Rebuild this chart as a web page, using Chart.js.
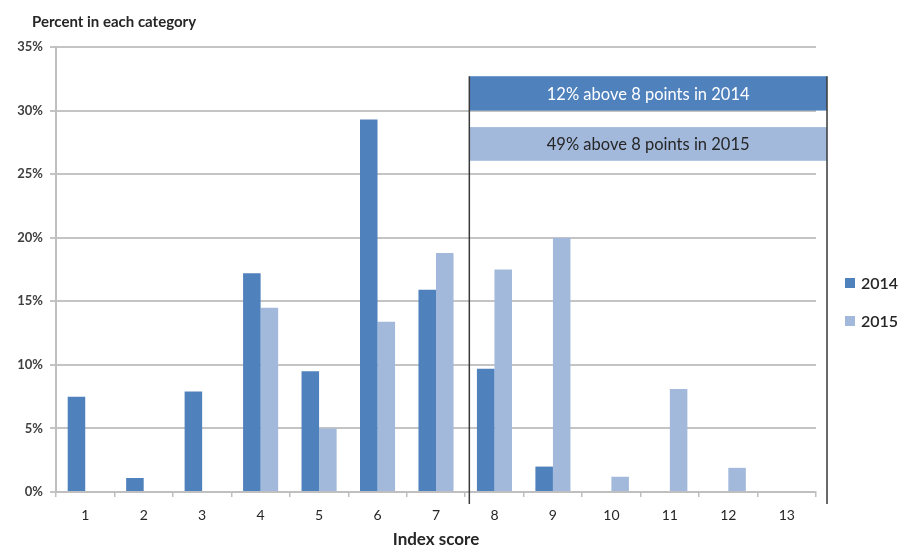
<!DOCTYPE html>
<html>
<head>
<meta charset="utf-8">
<script src="https://cdn.jsdelivr.net/npm/chart.js@4"></script>
<style>
  html, body { margin: 0; padding: 0; background: #fff; }
  #wrap { width: 904px; height: 551px; }
</style>
</head>
<body>
<div id="wrap"><canvas id="c" width="904" height="551"></canvas></div>
<script>
const categories = ['1','2','3','4','5','6','7','8','9','10','11','12','13'];
const values2014 = [7.5, 1.1, 7.9, 17.2, 9.5, 29.3, 15.9, 9.7, 2.0, 0, 0, 0, 0];
const values2015 = [0, 0, 0, 14.5, 5.0, 13.4, 18.8, 17.5, 20.0, 1.2, 8.1, 1.9, 0];
const seriesNames = ['2014', '2015'];
const seriesColors = ['#4f81bd', '#a3b9dc'];
const yTicks = [0, 5, 10, 15, 20, 25, 30, 35];
const noteTexts = ['12% above 8 points in 2014', '49% above 8 points in 2015'];
const noteRanges = [[30, 32.7], [26.05, 28.7]];

const FONT = 'Lato, "Open Sans", "Liberation Sans", sans-serif';

const overlay = {
  id: 'overlay',
  afterDraw(chart) {
    const ctx = chart.ctx;
    const x = chart.scales.x, y = chart.scales.y;
    const area = chart.chartArea;
    ctx.save();
    // header
    ctx.fillStyle = '#262626';
    ctx.font = 'bold 15px ' + FONT;
    ctx.textBaseline = 'middle';
    ctx.textAlign = 'left';
    ctx.fillText('Percent in each category', 32, 22);

    // annotation region
    const xl = x.getPixelForValue(6.57);
    const xr = area.right + 11;
    const topY = y.getPixelForValue(noteRanges[0][1]);
    const botY = area.bottom + 12;
    noteRanges.forEach((r, i) => {
      const t = y.getPixelForValue(r[1]);
      const b = y.getPixelForValue(r[0]);
      ctx.fillStyle = i === 0 ? '#4f81bd' : '#a3b9dc';
      ctx.fillRect(xl, t, xr - xl, b - t);
      ctx.fillStyle = i === 0 ? '#ffffff' : '#262626';
      ctx.font = '16.5px ' + FONT;
      ctx.textAlign = 'center';
      ctx.fillText(noteTexts[i], (xl + xr) / 2, (t + b) / 2 + 1);
    });
    ctx.strokeStyle = '#3a3a3a';
    ctx.lineWidth = 1.5;
    ctx.beginPath();
    ctx.moveTo(xl, topY); ctx.lineTo(xl, botY);
    ctx.moveTo(xr, topY); ctx.lineTo(xr, botY);
    ctx.stroke();

    // legend
    const lx = area.right + 29;
    const ly = [283, 321];
    seriesNames.forEach((n, i) => {
      ctx.fillStyle = seriesColors[i];
      ctx.fillRect(lx, ly[i] - 5, 10, 10);
      ctx.fillStyle = '#262626';
      ctx.font = '600 16px ' + FONT;
      ctx.textAlign = 'left';
      ctx.fillText(n, lx + 16, ly[i] + 1);
    });
    ctx.restore();
  }
};

new Chart(document.getElementById('c'), {
  type: 'bar',
  data: {
    labels: categories,
    datasets: [
      { label: seriesNames[0], data: values2014, backgroundColor: seriesColors[0] },
      { label: seriesNames[1], data: values2015, backgroundColor: seriesColors[1] }
    ]
  },
  options: {
    responsive: false,
    animation: false,
    devicePixelRatio: 1,
    layout: { padding: { left: 0, right: 88, top: 47, bottom: 0 } },
    datasets: { bar: { categoryPercentage: 0.6, barPercentage: 1.0 } },
    plugins: {
      legend: { display: false },
      title: { display: false },
      tooltip: { enabled: false }
    },
    scales: {
      x: {
        afterFit(s) { s.height = 59; },
        grid: { drawOnChartArea: false, drawTicks: true, tickLength: 5, color: '#bfbfbf', lineWidth: 1.5 },
        border: { display: true, color: '#bfbfbf', width: 2 },
        ticks: { color: '#262626', font: { family: FONT, size: 14 }, padding: 10 },
        title: { display: true, text: 'Index score', color: '#262626', font: { family: FONT, size: 17, weight: 'bold' }, padding: { top: 0, bottom: 1 } }
      },
      y: {
        min: 0, max: 35,
        afterFit(s) { s.width = 56; },
        afterBuildTicks(s) { s.ticks = yTicks.map(v => ({ value: v })); },
        grid: { color: '#c4c4c4', lineWidth: 2, drawTicks: true, tickLength: 6 },
        border: { display: true, color: '#bfbfbf', width: 2 },
        ticks: { color: '#404040', font: { family: FONT, size: 13, weight: 'bold' }, padding: 7, callback: v => v + '%' }
      }
    }
  },
  plugins: [overlay]
});
</script>
</body>
</html>
